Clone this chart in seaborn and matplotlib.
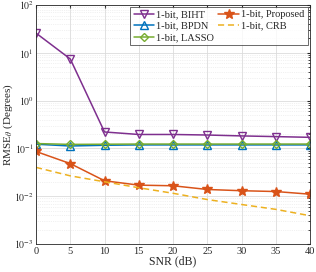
import numpy as np
import pandas as pd
import matplotlib
matplotlib.use("Agg")
import matplotlib.pyplot as plt
import seaborn as sns

# Data
snr = [0, 5, 10, 15, 20, 25, 30, 35, 40]
biht = [25.7, 7.4, 0.22, 0.195, 0.195, 0.19, 0.182, 0.176, 0.17]
bpdn = [0.122, 0.112, 0.116, 0.118, 0.118, 0.118, 0.118, 0.118, 0.118]
lasso = [0.126, 0.121, 0.122, 0.123, 0.123, 0.123, 0.123, 0.123, 0.123]
proposed = [0.086, 0.048, 0.021, 0.017, 0.0165, 0.0138, 0.013, 0.0125, 0.011]
crb = [0.04, 0.0266, 0.02, 0.015, 0.0115, 0.0085, 0.0067, 0.0053, 0.0039]

names = ['1-bit, BIHT', '1-bit, BPDN', '1-bit, LASSO', '1-bit, Proposed', '1-bit, CRB']
series = [biht, bpdn, lasso, proposed, crb]
colors = ['#7E2F8E', '#0072BD', '#77AC30', '#D95319', '#EDB120']
markers = ['v', '^', 'D', '*', None]
msizes = [5.5, 5.5, 4, 7.5, 0]

sns.set_style("white")
plt.rcParams['font.family'] = ['Liberation Serif', 'DejaVu Serif']
plt.rcParams['mathtext.fontset'] = 'stix'

fig = plt.figure(figsize=(3.16, 2.72), dpi=100)
ax = fig.add_axes([0.114, 0.103, 0.867, 0.879])

for name, vals, c, m, ms in zip(names, series, colors, markers, msizes):
    sns.lineplot(x=snr, y=vals, ax=ax, color=c, lw=1.1, label=name)
    ln = ax.lines[-1]
    if m is None:
        ln.set_dashes((4, 2.5))
    else:
        ln.set_marker(m)
        ln.set_markersize(ms)
        ln.set_markeredgecolor(c)
        ln.set_markeredgewidth(1.0)
        ln.set_markerfacecolor(c if m == '*' else 'none')

ax.set_yscale('log')
ax.set_xlim(0, 40)
ax.set_ylim(1e-3, 1e2)
ax.set_xticks(snr)
ax.set_yticks([1e-3, 1e-2, 1e-1, 1e0, 1e1, 1e2])
ax.set_yticklabels([r'$10^{-3}$', r'$10^{-2}$', r'$10^{-1}$', r'$10^{0}$', r'$10^{1}$', r'$10^{2}$'])
ax.grid(True, which='major', color='#dcdcdc', lw=0.6)
ax.grid(True, which='minor', color='#e4e4e4', lw=0.5, ls=':')
ax.tick_params(which='both', direction='in', top=True, right=True, labelsize=7.5,
               colors='#262626', length=2.5, pad=2)
ax.tick_params(axis='y', labelsize=7, pad=1.5)
ax.tick_params(which='minor', length=1.5)
ax.set_xlabel('SNR (dB)', fontsize=8.5, labelpad=0)
ax.set_ylabel(r'RMSE$_\theta$ (Degrees)', fontsize=8)
ax.yaxis.set_label_coords(-0.077, 0.5)
for s in ax.spines.values():
    s.set_color('#262626')
    s.set_linewidth(0.6)

leg = ax.legend(ncol=2, loc='upper right', fontsize=7.5, frameon=True, fancybox=False,
                edgecolor='#262626', handlelength=2.0, handletextpad=0.2,
                columnspacing=0.4, labelspacing=0.2, borderpad=0.3,
                borderaxespad=0.2)
leg.get_frame().set_linewidth(0.6)

fig.savefig('out.png', dpi=100)
